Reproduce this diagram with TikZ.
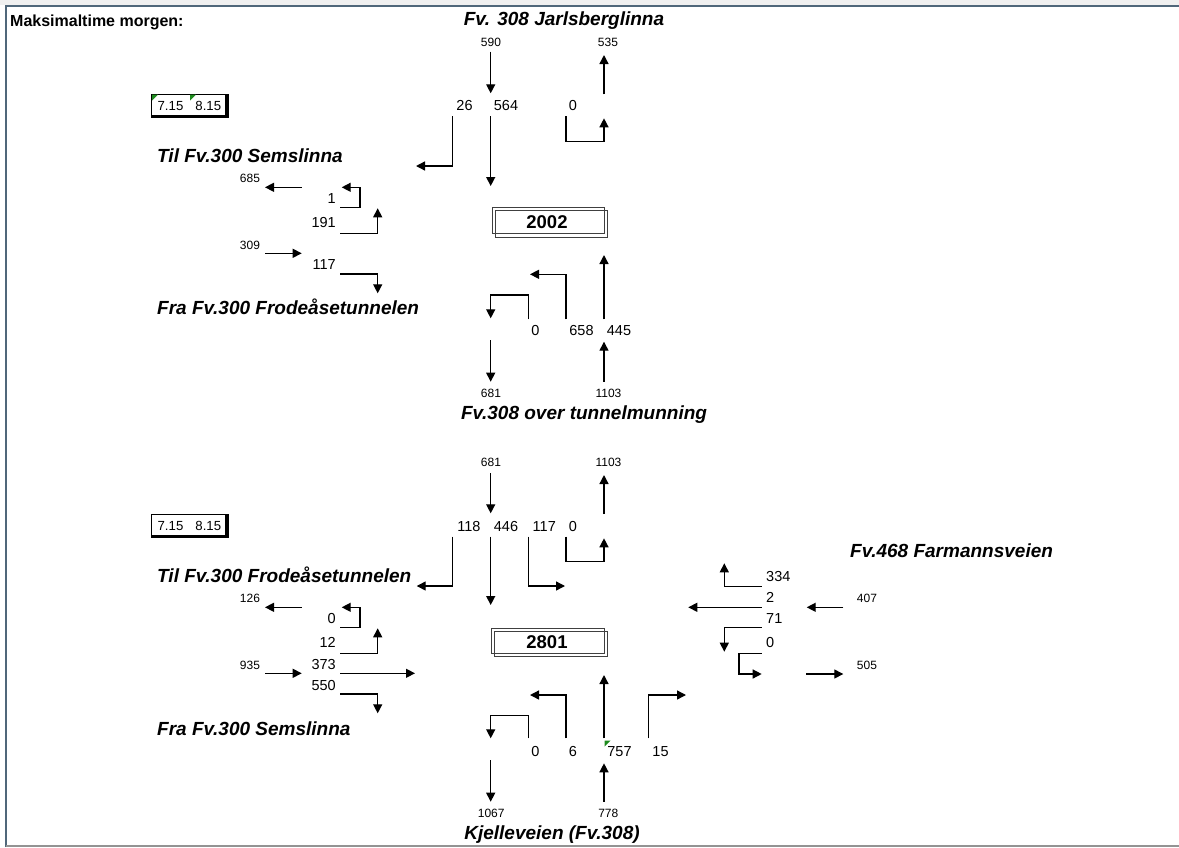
\documentclass[tikz,border=0pt]{standalone}
\usepackage{fontspec}
\setmainfont{Liberation Sans}
\usetikzlibrary{arrows.meta}
\definecolor{framec}{HTML}{50677A}
\definecolor{trig}{HTML}{1E8C1E}
\begin{document}
\begin{tikzpicture}[x=1pt,y=-1pt,
  arr/.style={line width=1.35pt,-{Triangle[length=9pt,width=9pt]}},
  ln/.style={line width=1.35pt},
  num/.style={inner sep=0pt,text height=10.4pt,text depth=0pt,font=\fontsize{14.5}{16}\selectfont},
  sm/.style={inner sep=0pt,text height=8.6pt,text depth=0pt,font=\fontsize{12}{14}\selectfont},
  ttl/.style={inner sep=0pt,text height=13.6pt,text depth=0pt,font=\fontsize{19}{22}\selectfont\bfseries\itshape},
  hdr/.style={inner sep=0pt,text height=11.5pt,text depth=0pt,font=\fontsize{16}{18}\selectfont\bfseries},
  jrect/.style={draw=black!75,line width=0.9pt},
  jnum/.style={inner sep=0pt,text height=13.4pt,text depth=0pt,font=\fontsize{18.5}{20}\selectfont\bfseries},
  tnum/.style={inner sep=0pt,text height=9.5pt,text depth=0pt,font=\fontsize{13.2}{15}\selectfont},
  tri/.style={fill=trig,draw=none}
]
\useasboundingbox (0,0) rectangle (1179,847);
% frame
\fill[gray!12] (0,0) rectangle (1179,4.6);
\draw[framec,line width=2pt] (6.3,847) -- (6.3,5.6) -- (1179,5.6);
\draw[gray!85,line width=1.3pt] (6,846) -- (1179,846);

\node[hdr,anchor=west] (hdr) at (10,21) {Maksimaltime morgen:};

% ================= junction 2002 =================
\node[ttl] (tJarl) at (564,19) {Fv. 308 Jarlsberglinna};
\node[sm] (n590) at (491,42) {590};
\node[sm] (n535) at (608,42) {535};
\path (490.7,51.7) coordinate (a590s) (490.7,93.3) coordinate (a590e)
      (604,94.3) coordinate (a535s) (604,55) coordinate (a535e)
      (452.7,116) coordinate (l26s) (416,166) coordinate (l26e)
      (490.7,116) coordinate (a564s) (490.7,186) coordinate (a564e)
      (566,116) coordinate (l0ts) (604,141.7) coordinate (l0tm) (604,118.3) coordinate (l0te);
\draw[arr] (a590s) -- (a590e);
\draw[arr] (a535s) -- (a535e);
\node[num] (n26) at (464.5,105) {26};
\node[num] (n564) at (506,105) {564};
\node[num] (n0t) at (573,105) {0};
\draw[arr] (l26s) |- (l26e);
\draw[arr] (a564s) -- (a564e);
\draw[arr] (l0ts) |- (l0tm) -- (l0te);

\draw[jrect] (492,207) rectangle (604,233);
\draw[jrect] (495,210) rectangle (607,237);
\node[jnum] (j2002) at (547,221.5) {2002};

% time box top
\draw[line width=0.9pt] (151.5,94) rectangle (227,116);
\fill (225,94) rectangle (228.5,118);
\fill (151,115) rectangle (228.5,118);
\fill[trig] (152,94.5) -- (158,94.5) -- (152,100.5) -- cycle;
\fill[trig] (190,94.5) -- (196,94.5) -- (190,100.5) -- cycle;
\node[tnum] (tA1) at (170.5,106) {7.15};
\node[tnum] (tB1) at (208.3,106) {8.15};

% left side top
\node[ttl,anchor=west] (tSems1) at (157,156) {Til Fv.300 Semslinna};
\node[sm] (n685) at (250,178) {685};
\path (301.7,187.3) coordinate (a685s) (265,187.3) coordinate (a685e)
      (340,207.3) coordinate (l1s) (360,187.3) coordinate (l1m) (341.7,187.3) coordinate (l1e)
      (340,233.3) coordinate (l191s) (377.7,208.3) coordinate (l191e)
      (265,253.3) coordinate (a309s) (301.7,253.3) coordinate (a309e)
      (340,274) coordinate (l117s) (377.7,293.3) coordinate (l117e);
\draw[arr] (a685s) -- (a685e);
\node[num,anchor=east] (n1) at (336,198) {1};
\draw[arr] (l1s) -| (l1m) -- (l1e);
\node[num,anchor=east] (n191) at (336,222.7) {191};
\draw[arr] (l191s) -| (l191e);
\node[sm] (n309) at (250,245) {309};
\draw[arr] (a309s) -- (a309e);
\node[num,anchor=east] (n117) at (336,264) {117};
\draw[arr] (l117s) -| (l117e);
\node[ttl,anchor=west] (tFrod1) at (157,308) {Fra Fv.300 Frodeåsetunnelen};

% bottom side of 2002
\path (604,319.3) coordinate (a445s) (604,255) coordinate (a445e)
      (566,319.3) coordinate (l658s) (530,274.3) coordinate (l658e)
      (528.3,319.3) coordinate (l0us) (490.7,295) coordinate (l0um) (490.7,318.3) coordinate (l0ue)
      (490.7,340) coordinate (a681s) (490.7,381.7) coordinate (a681e)
      (604,381.7) coordinate (a1103s) (604,341.7) coordinate (a1103e);
\draw[arr] (a445s) -- (a445e);
\draw[arr] (l658s) |- (l658e);
\draw[arr] (l0us) |- (l0um) -- (l0ue);
\node[num] (n0u) at (535.5,330) {0};
\node[num] (n658) at (581.5,330) {658};
\node[num] (n445) at (619,330) {445};
\draw[arr] (a681s) -- (a681e);
\draw[arr] (a1103s) -- (a1103e);
\node[sm] (n681) at (491,393.3) {681};
\node[sm] (n1103) at (608.5,393.3) {1103};
\node[ttl] (tTun) at (584,413) {Fv.308 over tunnelmunning};

% ================= junction 2801 =================
\node[sm] (n681b) at (491,461.7) {681};
\node[sm] (n1103b) at (608.5,461.7) {1103};
\path (490.7,473.3) coordinate (b681s) (490.7,513.3) coordinate (b681e)
      (604,514) coordinate (b1103s) (604,475) coordinate (b1103e)
      (452.7,536.7) coordinate (l118s) (416.7,586) coordinate (l118e)
      (490.7,536.7) coordinate (a446s) (490.7,605) coordinate (a446e)
      (528.3,536.7) coordinate (l117bs) (565,586) coordinate (l117be)
      (566,536.7) coordinate (l0bs) (604,561.7) coordinate (l0bm) (604,538.3) coordinate (l0be);
\draw[arr] (b681s) -- (b681e);
\draw[arr] (b1103s) -- (b1103e);
\node[num] (n118) at (469,526) {118};
\node[num] (n446) at (506,526) {446};
\node[num] (n117b) at (544.3,526) {117};
\node[num] (n0b) at (573,526) {0};
\draw[arr] (l118s) |- (l118e);
\draw[arr] (a446s) -- (a446e);
\draw[arr] (l117bs) |- (l117be);
\draw[arr] (l0bs) |- (l0bm) -- (l0be);

\draw[jrect] (491,628) rectangle (604,653.3);
\draw[jrect] (494,631) rectangle (607.3,656.7);
\node[jnum] (j2801) at (547,641.7) {2801};

% time box bottom
\draw[line width=0.9pt] (151.5,514) rectangle (227,536);
\fill (225,514) rectangle (228.5,538);
\fill (151,535) rectangle (228.5,538);
\node[tnum] (tA2) at (170.5,526) {7.15};
\node[tnum] (tB2) at (208.3,526) {8.15};

% left side bottom
\node[ttl,anchor=west] (tFrod2) at (157,576) {Til Fv.300 Frodeåsetunnelen};
\node[sm] (n126) at (250,598) {126};
\path (301.7,607.3) coordinate (a126s) (265,607.3) coordinate (a126e)
      (340,627.3) coordinate (l0ds) (360,607.3) coordinate (l0dm) (341.7,607.3) coordinate (l0de)
      (340,653.3) coordinate (l12s) (377.7,628.3) coordinate (l12e)
      (265,673.3) coordinate (a935s) (301.7,673.3) coordinate (a935e)
      (340,673.3) coordinate (a373s) (415,673.3) coordinate (a373e)
      (340,694) coordinate (l550s) (377.7,713.3) coordinate (l550e);
\draw[arr] (a126s) -- (a126e);
\node[num,anchor=east] (n0d) at (336,618.3) {0};
\draw[arr] (l0ds) -| (l0dm) -- (l0de);
\node[num,anchor=east] (n12) at (336,642.7) {12};
\draw[arr] (l12s) -| (l12e);
\node[sm] (n935) at (250,665) {935};
\draw[arr] (a935s) -- (a935e);
\node[num,anchor=east] (n373) at (336,664) {373};
\draw[arr] (a373s) -- (a373e);
\node[num,anchor=east] (n550) at (336,685) {550};
\draw[arr] (l550s) -| (l550e);
\node[ttl,anchor=west] (tSems2) at (157,729) {Fra Fv.300 Semslinna};

% bottom side of 2801
\path (604,738.3) coordinate (a757s) (604,675) coordinate (a757e)
      (566,738.3) coordinate (l6s) (530,695) coordinate (l6e)
      (528.3,738.3) coordinate (l0cs) (490.7,715.7) coordinate (l0cm) (490.7,738.3) coordinate (l0ce)
      (648.3,738.3) coordinate (l15s) (686,695) coordinate (l15e)
      (490.7,760) coordinate (a1067s) (490.7,801.7) coordinate (a1067e)
      (604,801.7) coordinate (a778s) (604,763.3) coordinate (a778e);
\draw[arr] (a757s) -- (a757e);
\draw[arr] (l6s) |- (l6e);
\draw[arr] (l0cs) |- (l0cm) -- (l0ce);
\draw[arr] (l15s) |- (l15e);
\node[num] (n0c) at (535.5,751.7) {0};
\node[num] (n6) at (573,751.7) {6};
\node[num] (n757) at (619.5,751.7) {757};
\node[num] (n15) at (660.5,751.7) {15};
\fill[trig] (604.5,740.5) -- (610.5,740.5) -- (604.5,746.5) -- cycle;
\draw[arr] (a1067s) -- (a1067e);
\draw[arr] (a778s) -- (a778e);
\node[sm] (n1067) at (491.2,813.3) {1067};
\node[sm] (n778) at (608.3,813.3) {778};
\node[ttl] (tKjel) at (552,833) {Kjelleveien (Fv.308)};

% right side
\node[ttl,anchor=west] (tFarm) at (850,550.7) {Fv.468 Farmannsveien};
\path (761.7,586.7) coordinate (l334s) (724.3,563.3) coordinate (l334e)
      (761.7,607.3) coordinate (a2s) (688.3,607.3) coordinate (a2e)
      (761.7,627.7) coordinate (l71s) (724.3,651.7) coordinate (l71e)
      (761.7,653.3) coordinate (l0rs) (739,674) coordinate (l0rm) (761.7,674) coordinate (l0re)
      (843.3,607.3) coordinate (a407s) (806.7,607.3) coordinate (a407e)
      (806,674) coordinate (a505s) (843.3,674) coordinate (a505e);
\node[num,anchor=west] (n334) at (766,576.7) {334};
\draw[arr] (l334s) -| (l334e);
\node[num,anchor=west] (n2) at (766,597.7) {2};
\draw[arr] (a2s) -- (a2e);
\node[num,anchor=west] (n71) at (766,618.3) {71};
\draw[arr] (l71s) -| (l71e);
\node[num,anchor=west] (n0r) at (766,642.7) {0};
\draw[arr] (l0rs) -| (l0rm) -- (l0re);
\node[sm] (n407) at (867,598.3) {407};
\draw[arr] (a407s) -- (a407e);
\node[sm] (n505) at (867,665) {505};
\draw[arr] (a505s) -- (a505e);
\end{tikzpicture}
\end{document}
